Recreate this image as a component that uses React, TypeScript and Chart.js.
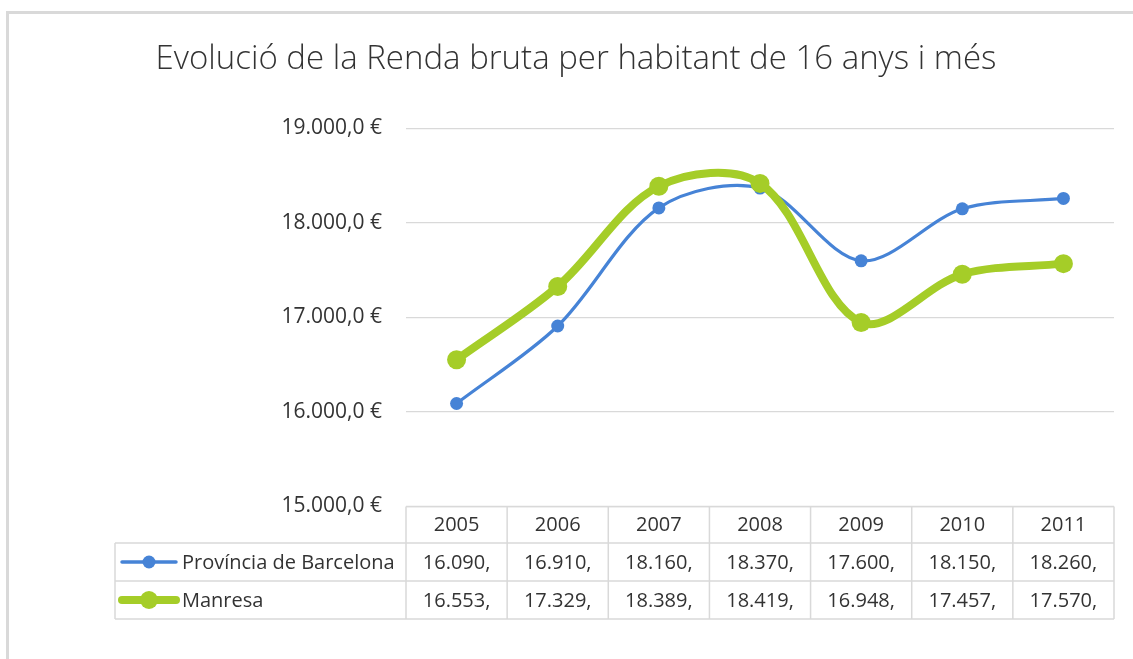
import React, { useEffect, useRef } from "react";
import { Chart, registerables } from "chart.js";

Chart.register(...registerables);

const TITLE = "Evolució de la Renda bruta per habitant de 16 anys i més";
const YEARS = ["2005", "2006", "2007", "2008", "2009", "2010", "2011"];
const BARCELONA = [16090, 16910, 18160, 18370, 17600, 18150, 18260];
const MANRESA = [16553, 17329, 18389, 18419, 16948, 17457, 17570];
const SERIES_NAMES = ["Província de Barcelona", "Manresa"];
const Y_MIN = 15000;
const Y_MAX = 19000;
const Y_STEP = 1000;

const BLUE = "#4683d6";
const GREEN = "#a5cd28";
const GRID = "#d9d9d9";
const TEXT = "#333333";
const FONT = "'Open Sans', sans-serif";

function thousands(v: number): string {
  const s = Math.floor(v).toString();
  return s.replace(/\B(?=(\d{3})+(?!\d))/g, ".");
}
function tickLabel(v: number): string {
  return thousands(v) + ",0 €";
}
function cellLabel(v: number): string {
  return thousands(v) + ",";
}

const framePlugin = {
  id: "frame",
  beforeDraw(chart: any) {
    const ctx = chart.ctx;
    ctx.save();
    ctx.fillStyle = "#ffffff";
    ctx.fillRect(0, 0, chart.width, chart.height);
    ctx.strokeStyle = GRID;
    ctx.lineWidth = 3;
    ctx.beginPath();
    ctx.moveTo(7.5, chart.height);
    ctx.lineTo(7.5, 12.5);
    ctx.lineTo(chart.width, 12.5);
    ctx.stroke();
    ctx.restore();
  },
};

const tablePlugin = {
  id: "dataTable",
  afterDraw(chart: any) {
    const ctx = chart.ctx;
    const x = chart.scales.x;
    const area = chart.chartArea;
    const n = YEARS.length;
    const half = (x.getPixelForValue(1) - x.getPixelForValue(0)) / 2;
    const colLeft = x.getPixelForValue(0) - half;
    const colRight = x.getPixelForValue(n - 1) + half;
    const top = area.bottom;
    const rowH = 38;
    const headerBottom = top + 36.5;
    const row1Bottom = headerBottom + rowH;
    const row2Bottom = row1Bottom + rowH;
    const legendLeft = 115;

    ctx.save();
    ctx.strokeStyle = GRID;
    ctx.lineWidth = 1.5;
    ctx.beginPath();
    ctx.moveTo(colLeft, top);
    ctx.lineTo(colRight, top);
    ctx.moveTo(legendLeft, headerBottom);
    ctx.lineTo(colRight, headerBottom);
    ctx.moveTo(legendLeft, row1Bottom);
    ctx.lineTo(colRight, row1Bottom);
    ctx.moveTo(legendLeft, row2Bottom);
    ctx.lineTo(colRight, row2Bottom);
    ctx.moveTo(legendLeft, headerBottom);
    ctx.lineTo(legendLeft, row2Bottom);
    for (let i = 0; i <= n; i++) {
      const xx = colLeft + i * 2 * half;
      ctx.moveTo(xx, top);
      ctx.lineTo(xx, row2Bottom);
    }
    ctx.stroke();

    ctx.fillStyle = TEXT;
    ctx.font = `20px ${FONT}`;
    ctx.textBaseline = "middle";
    ctx.textAlign = "center";
    const headerY = (top + headerBottom) / 2 + 1;
    const r1Y = (headerBottom + row1Bottom) / 2 + 1;
    const r2Y = (row1Bottom + row2Bottom) / 2 + 1;
    YEARS.forEach((yr, i) => {
      const cx = x.getPixelForValue(i);
      ctx.fillText(yr, cx, headerY);
      ctx.fillText(cellLabel(BARCELONA[i]), cx, r1Y);
      ctx.fillText(cellLabel(MANRESA[i]), cx, r2Y);
    });

    const keys = [
      { y: r1Y - 1, color: BLUE, lw: 3.5, r: 6.5, name: SERIES_NAMES[0] },
      { y: r2Y - 1, color: GREEN, lw: 8, r: 9, name: SERIES_NAMES[1] },
    ];
    keys.forEach((k) => {
      ctx.strokeStyle = k.color;
      ctx.lineWidth = k.lw;
      ctx.lineCap = "round";
      ctx.beginPath();
      ctx.moveTo(122, k.y);
      ctx.lineTo(176, k.y);
      ctx.stroke();
      ctx.fillStyle = k.color;
      ctx.beginPath();
      ctx.arc(149, k.y, k.r, 0, Math.PI * 2);
      ctx.fill();
      ctx.fillStyle = TEXT;
      ctx.textAlign = "left";
      ctx.fillText(k.name, 182, k.y + 1);
    });
    ctx.restore();
  },
};

export default function App() {
  const ref = useRef<HTMLCanvasElement | null>(null);
  useEffect(() => {
    if (!ref.current) return;
    const chart = new Chart(ref.current, {
      type: "line",
      data: {
        labels: YEARS,
        datasets: [
          {
            label: SERIES_NAMES[0],
            data: BARCELONA,
            borderColor: BLUE,
            backgroundColor: BLUE,
            borderWidth: 3.2,
            pointRadius: 6.5,
            pointBorderWidth: 0,
            pointBackgroundColor: BLUE,
            tension: 0.32,
            order: 2,
          },
          {
            label: SERIES_NAMES[1],
            data: MANRESA,
            borderColor: GREEN,
            backgroundColor: GREEN,
            borderWidth: 8,
            pointRadius: 9.5,
            pointBorderWidth: 0,
            pointBackgroundColor: GREEN,
            tension: 0.34,
            order: 1,
          },
        ],
      },
      options: {
        responsive: false,
        animation: false,
        layout: { padding: { left: 38, right: 19, top: 0, bottom: 152.5 } },
        plugins: {
          legend: { display: false },
          tooltip: { enabled: false },
          title: {
            display: true,
            text: TITLE,
            color: TEXT,
            font: { family: FONT, size: 33, weight: "300" as any, lineHeight: 1.2 },
            padding: { top: 40, bottom: 48.9 },
          },
        },
        scales: {
          x: {
            type: "category",
            offset: true,
            display: false,
            grid: { display: false },
          },
          y: {
            min: Y_MIN,
            max: Y_MAX,
            border: { display: false },
            grid: { color: GRID, lineWidth: 1.2, drawTicks: false },
            ticks: {
              stepSize: Y_STEP,
              padding: 24,
              color: TEXT,
              font: { family: FONT, size: 21 },
              callback: (v: any) => tickLabel(Number(v)),
            },
            afterFit: (scale: any) => {
              scale.width = 368;
            },
          },
        },
      },
      plugins: [framePlugin, tablePlugin],
    });
    return () => chart.destroy();
  }, []);
  return (
    <div style={{ position: "absolute", left: 0, top: 0, width: 1133, height: 659, background: "#fff" }}>
      <canvas ref={ref} width={1133} height={659} style={{ display: "block" }} />
    </div>
  );
}
